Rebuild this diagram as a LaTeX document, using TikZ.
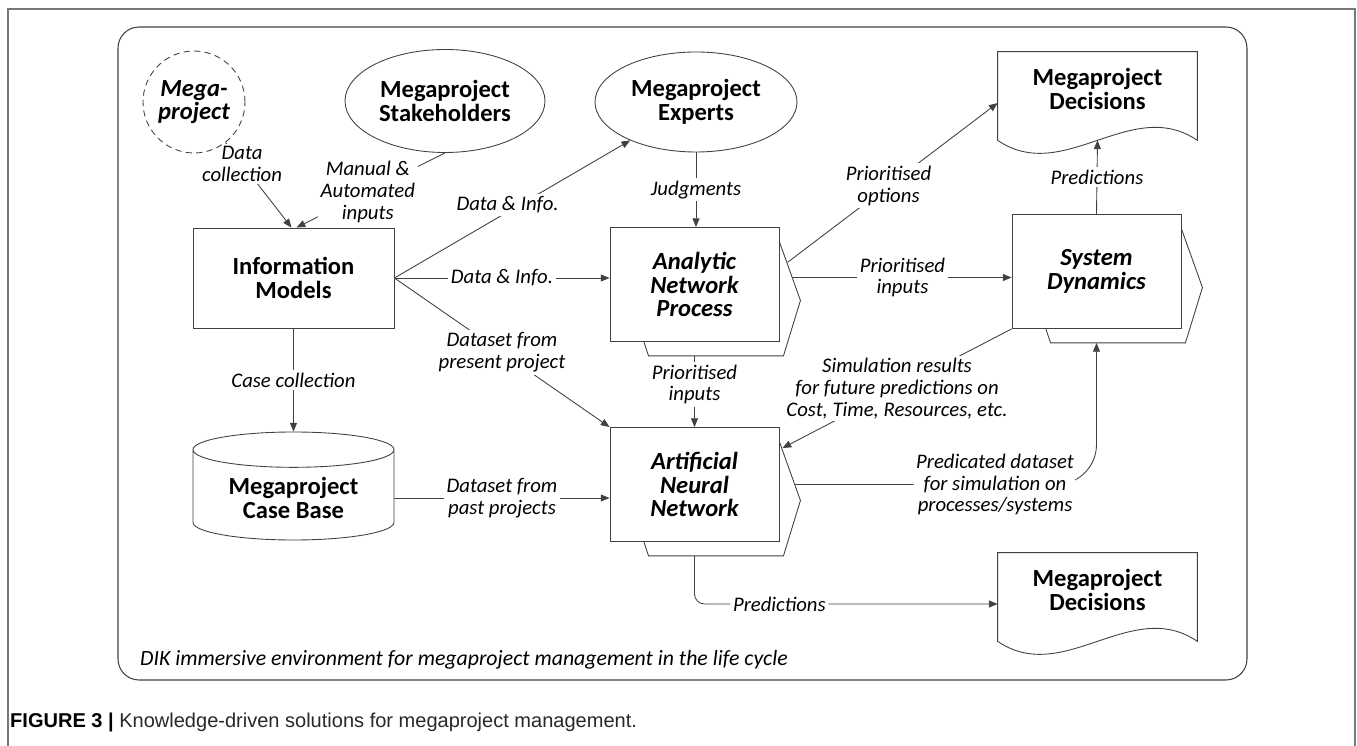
\documentclass[tikz,border=0pt]{standalone}
\usepackage{fontspec}
\setmainfont{Carlito}
\newfontfamily\capfont{Liberation Sans}
\usetikzlibrary{arrows.meta, positioning, shapes.geometric, calc}
\definecolor{lineclr}{RGB}{65,65,65}
\definecolor{framegray}{RGB}{120,120,120}
\definecolor{captext}{RGB}{40,40,40}
\newcommand{\pxu}{0.02cm}
\newcommand{\boxfont}{\fontsize{14}{13.4}\selectfont\bfseries}
\newcommand{\lblfont}{\fontsize{11.8}{12.4}\selectfont\itshape}
\pgfdeclarelayer{lines}
\pgfdeclarelayer{backs}
\pgfsetlayers{lines,backs,main}
\newcommand{\backshape}[1]{%
  \begin{pgfonlayer}{backs}
    \fill[white] ($(#1.north east)+(0,12)$) -- ($(#1.east)+(21,16)$) -- ($(#1.south east)+(4,14)$) -- ($(#1.south west)+(39,14)$) -- ($(#1.south west)+(34,0)$) -- (#1.south east) -- cycle;
    \draw[boxline] ($(#1.north east)+(-1,12)$) -- ($(#1.east)+(21,16)$) -- ($(#1.south east)+(4,14)$) -- ($(#1.south west)+(39,14)$) -- ($(#1.south west)+(34,-1)$);
  \end{pgfonlayer}}
\newcommand{\docshape}[1]{%
  \begin{pgfonlayer}{backs}
    \draw[boxline, fill=white] (#1.north west) -- (#1.north east) -- ($(#1.south east)+(0,14)$) .. controls ($(#1.south east)+(-66,-31)$) and ($(#1.south west)+(66,59)$) .. ($(#1.south west)+(0,14)$) -- cycle;
  \end{pgfonlayer}}

\begin{document}
\begin{tikzpicture}[x=\pxu, y=-\pxu,
    boxline/.style={draw=lineclr, line width=0.5pt},
    procbox/.style={boxline, fill=white, minimum width=169*\pxu, minimum height=114*\pxu, align=center, font=\boxfont\itshape, inner sep=0pt},
    plainbox/.style={boxline, fill=white, minimum width=201*\pxu, minimum height=100*\pxu, align=center, font=\boxfont, inner sep=0pt},
    actor/.style={ellipse, boxline, fill=white, align=center, font=\boxfont, inner sep=0pt},
    docbox/.style={minimum width=199*\pxu, minimum height=74*\pxu, align=center, font=\boxfont, inner sep=0pt},
    conn/.style={draw=lineclr, line width=0.5pt, -{Triangle[length=5pt, width=4pt]}},
    lbl/.style={fill=white, inner sep=1.5pt, align=center, font=\lblfont}]
    \useasboundingbox (0,0) rectangle (1357,746);
    \draw[framegray, line width=0.9pt] (8,746) -- (8,9) -- (1355,9) -- (1355,746);
    \draw[lineclr, line width=0.6pt, rounded corners=12pt] (118,27) rectangle (1247,680);

    \node[circle, boxline, fill=white, dash pattern=on 3.5pt off 2.5pt, minimum size=102*\pxu, align=center, font=\boxfont\itshape, inner sep=0pt] (mp) at (194,102) {Mega-\\project};
    \node[actor, minimum width=200*\pxu, minimum height=103*\pxu] (sh) at (445,101) {Megaproject\\Stakeholders};
    \node[actor, minimum width=202*\pxu, minimum height=100*\pxu] (ex) at (696,102) {Megaproject\\Experts};
    \node[plainbox] (im) at (293.5,278) {Information\\Models};
    \node[cylinder, shape border rotate=90, aspect=0.25, boxline, fill=white, minimum width=201*\pxu, minimum height=108*\pxu, align=center, font=\boxfont, anchor=shape center] (cb) at (293.5,486) {Megaproject\\Case Base};
    \node[procbox] (anp) at (694.5,284.5) {Analytic\\Network\\Process};
    \node[procbox] (ann) at (694.5,484.5) {Artificial\\Neural\\Network};
    \node[procbox] (sd) at (1096.5,271.5) {System\\Dynamics};
    \node[docbox] (dec1) at (1097.5,89) {Megaproject\\Decisions};
    \node[docbox] (dec2) at (1097.5,590) {Megaproject\\Decisions};
    \backshape{anp} \backshape{ann} \backshape{sd}
    \docshape{dec1} \docshape{dec2}

    \coordinate (anpout) at ($(anp.east)+(0,-7)$);
    \coordinate (anpopt) at ($(anp.east)+(0,-16)$);
    \coordinate (dec1in) at ($(dec1.west)+(0,14)$);
    \coordinate (dec1bot) at ($(dec1.south)+(0,14)$);
    \coordinate (dec2in) at ($(dec2.west)+(0,14)$);
    \coordinate (sdbot) at ($(sd.south)+(0,14)$);
    \coordinate (annback) at ($(ann.north east)+(3,21)$);

    \begin{pgfonlayer}{lines}
    \draw[conn] (mp) -- node[lbl, pos=0.25] {Data\\collection} ($(im.north)+(-2,0)$);
    \draw[conn] (sh.south) -- node[lbl, pos=0.52] {Manual \&\\Automated\\inputs} ($(im.north)+(3,0)$);
    \draw[conn] (im.east) -- node[lbl, pos=0.48, yshift=4pt] {Data \& Info.} (ex);
    \draw[conn] (im.east) -- node[lbl] {Data \& Info.} (im.east -| anp.west);
    \draw[conn] (im.east) -- node[lbl] {Dataset from\\present project} (ann.north west);
    \draw[conn] (im.south) -- node[lbl] {Case collection} (cb.north);
    \draw[conn] (cb.east) -- node[lbl] {Dataset from\\past projects} (cb.east -| ann.west);
    \draw[conn] (ex.south) -- node[lbl] {Judgments} (ex.south |- anp.north);
    \draw[conn] (anp.south) -- node[lbl] {Prioritised\\inputs} (ann.north);
    \draw[conn] (anpout) -- node[lbl, pos=0.53] {Prioritised\\inputs} (anpout -| sd.west);
    \draw[conn] (anpopt) -- node[lbl] {Prioritised\\options} (dec1in);
    \draw[conn] (sd.north) -- node[lbl] {Predictions} (dec1bot);
    \draw[conn] (sd.south west) -- node[lbl] {Simulation results\\for future predictions on\\Cost, Time, Resources, etc.} (annback);
    \draw[conn, rounded corners=0.8cm] (ann.east) -| node[lbl, pos=0.34] {Predicated dataset\\for simulation on\\processes/systems} (sdbot);
    \draw[conn, rounded corners=0.2cm] (ann.south) |- node[lbl, pos=0.64] {Predictions} (dec2in);
    \end{pgfonlayer}

    \node[anchor=west, font=\fontsize{12.4}{14}\selectfont\itshape] (env) at (134,660) {DIK immersive environment for megaproject management in the life cycle};
    \node[anchor=west, font=\capfont\fontsize{11.4}{13}\selectfont, text=captext] (cap) at (4,722) {\textbf{\color{black}FIGURE 3 |} Knowledge-driven solutions for megaproject management.};
\end{tikzpicture}
\end{document}
